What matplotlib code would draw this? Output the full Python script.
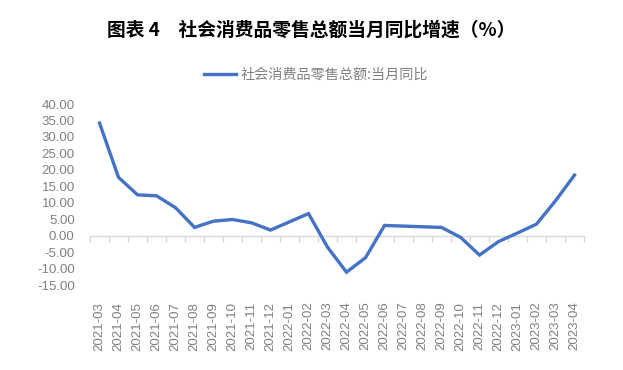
import numpy as np
import matplotlib.pyplot as plt

plt.rcParams['font.family'] = ['Liberation Sans', 'Noto Sans CJK SC', 'DejaVu Sans']

# 数据
months = ['2021-03', '2021-04', '2021-05', '2021-06', '2021-07', '2021-08',
          '2021-09', '2021-10', '2021-11', '2021-12', '2022-01', '2022-02',
          '2022-03', '2022-04', '2022-05', '2022-06', '2022-07', '2022-08',
          '2022-09', '2022-10', '2022-11', '2022-12', '2023-01', '2023-02',
          '2023-03', '2023-04']
yoy = [34.2, 17.7, 12.4, 12.1, 8.5, 2.5, 4.4, 4.9, 3.9, 1.7, 4.2, 6.7,
       -3.5, -11.1, -6.7, 3.1, 2.9, 2.7, 2.5, -0.5, -5.9, -1.8, 0.8, 3.5,
       10.6, 18.4]
series_name = '社会消费品零售总额:当月同比'
title = '图表 4　社会消费品零售总额当月同比增速（%）'

fig = plt.figure(figsize=(6.23, 3.70), dpi=100)
ax = fig.add_axes([0.1445, 0.2297, 0.7929, 0.4892])

x = np.arange(len(months))
ax.plot(x, yoy, color='#4472C4', linewidth=2.4, label=series_name,
        solid_joinstyle='miter')

ymin, ymax = -15, 40
ax.set_ylim(ymin, ymax)
ax.set_xlim(-0.5, len(months) - 0.5)
ax.set_yticks(np.arange(ymin, ymax + 1, 5))
ax.set_yticklabels([f'{v:.2f}' for v in np.arange(ymin, ymax + 1, 5)])
ax.tick_params(axis='y', length=0, labelsize=9.5, labelcolor='#808080', pad=11)

ax.set_xticks(x)
ax.set_xticklabels(months, rotation=90)
ax.tick_params(axis='x', length=0, labelsize=9.5, labelcolor='#808080', pad=12)

for s in ax.spines.values():
    s.set_visible(False)

# 零轴及分类刻度
zero_frac = (0 - ymin) / (ymax - ymin)
sec = ax.secondary_xaxis(zero_frac)
sec.set_xticks(np.arange(-0.5, len(months), 1.0))
sec.set_xticklabels([])
sec.tick_params(axis='x', direction='out', length=4, color='#d9d9d9', width=1)
sec.spines['bottom'].set_color('#d9d9d9')
sec.spines['bottom'].set_linewidth(1)

fig.text(0.5, 0.918, title, ha='center', va='center', fontsize=13.5,
         fontweight='bold', color='black',
         family=['Noto Sans CJK SC', 'DejaVu Sans'])

handles, labels = ax.get_legend_handles_labels()
leg = fig.legend(handles, labels, loc='center', bbox_to_anchor=(0.507, 0.797),
                 frameon=False, handlelength=2.3, handletextpad=0.3,
                 prop={'family': ['Noto Sans CJK SC', 'DejaVu Sans'], 'size': 10.2})
for t in leg.get_texts():
    t.set_color('#808080')

fig.savefig('out.png', dpi=100)
